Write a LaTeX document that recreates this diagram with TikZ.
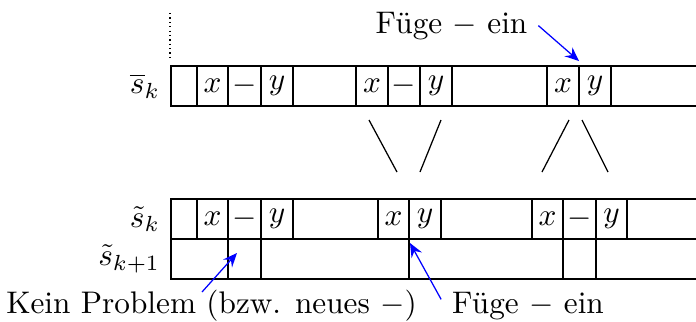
\documentclass[tikz,border=0pt]{standalone}
\usepackage{amsmath}
\usetikzlibrary{arrows.meta}
\tikzset{pfeil/.style={blue,-{Stealth[length=4.5pt,width=3.8pt,inset=1.6pt]}}}
\begin{document}
\begin{tikzpicture}[x=32pt,y=32pt]
\useasboundingbox (0,0) rectangle (6.96,3.21);

% Punkte oben
\draw[densely dotted] (1.70,3.08) -- (1.70,2.60);

% Zeile s_k (oben)
\draw (6.96,2.55) -- (1.71,2.55) -- (1.71,2.15) -- (6.96,2.15);
\draw (1.97,2.15) -- (1.97,2.55)
      (2.28,2.15) -- (2.28,2.55)
      (2.61,2.15) -- (2.61,2.55)
      (2.93,2.15) -- (2.93,2.55)
      (3.56,2.15) -- (3.56,2.55)
      (3.88,2.15) -- (3.88,2.55)
      (4.20,2.15) -- (4.20,2.55)
      (4.52,2.15) -- (4.52,2.55)
      (5.47,2.15) -- (5.47,2.55)
      (5.79,2.15) -- (5.79,2.55)
      (6.11,2.15) -- (6.11,2.55);

\node[left] (sk) at (1.71,2.35) {$\overline{s}_k$};
\node (xa) at (2.125,2.35) {$x$};
\node (ma) at (2.445,2.35) {$-$};
\node (ya) at (2.77,2.35) {$y$};
\node (xb) at (3.72,2.35) {$x$};
\node (mb) at (4.04,2.35) {$-$};
\node (yb) at (4.36,2.35) {$y$};
\node (xc) at (5.63,2.35) {$x$};
\node (yc) at (5.95,2.35) {$y$};

% Verschiebungen
\draw (3.69,2.01) -- (3.97,1.49);
\draw (4.41,2.01) -- (4.20,1.49);
\draw (5.69,2.01) -- (5.42,1.49);
\draw (5.82,2.01) -- (6.08,1.49);

% Zeilen s_k und s_{k+1} (unten)
\draw (6.96,1.22) -- (1.71,1.22) -- (1.71,0.42) -- (6.96,0.42);
\draw (1.71,0.82) -- (6.96,0.82);
\draw (1.97,0.82) -- (1.97,1.22)
      (2.28,0.42) -- (2.28,1.22)
      (2.61,0.42) -- (2.61,1.22)
      (2.93,0.82) -- (2.93,1.22)
      (3.78,0.82) -- (3.78,1.22)
      (4.09,0.42) -- (4.09,1.22)
      (4.41,0.82) -- (4.41,1.22)
      (5.32,0.82) -- (5.32,1.22)
      (5.63,0.42) -- (5.63,1.22)
      (5.96,0.42) -- (5.96,1.22)
      (6.27,0.82) -- (6.27,1.22);

\node[left] (tsk) at (1.71,1.02) {$\tilde{s}_k$};
\node[left] (tskk) at (1.71,0.62) {$\tilde{s}_{k+1}$};
\node (xd) at (2.125,1.02) {$x$};
\node (md) at (2.445,1.02) {$-$};
\node (yd) at (2.77,1.02) {$y$};
\node (xe) at (3.935,1.02) {$x$};
\node (ye) at (4.25,1.02) {$y$};
\node (xf) at (5.475,1.02) {$x$};
\node (mf) at (5.795,1.02) {$-$};
\node (yf) at (6.115,1.02) {$y$};

% Beschriftungen
\node[anchor=base] (fuegeoben) at (4.515,2.88) {F\"uge $-$ ein};
\node[anchor=base] (keinproblem) at (2.115,0.08) {Kein Problem (bzw. neues $-$)};
\node[anchor=base] (fuegeunten) at (5.28,0.08) {F\"uge $-$ ein};

% Pfeile
\coordinate (zieloben) at (5.79,2.60);
\coordinate (startlinks) at (2.02,0.29);
\coordinate (ziellinks) at (2.37,0.68);
\coordinate (zielrechts) at (4.10,0.78);
\draw[pfeil] (fuegeoben.east) -- (zieloben);
\draw[pfeil] (startlinks) -- (ziellinks);
\draw[pfeil] ([yshift=2pt]fuegeunten.west) -- (zielrechts);

\end{tikzpicture}
\end{document}
